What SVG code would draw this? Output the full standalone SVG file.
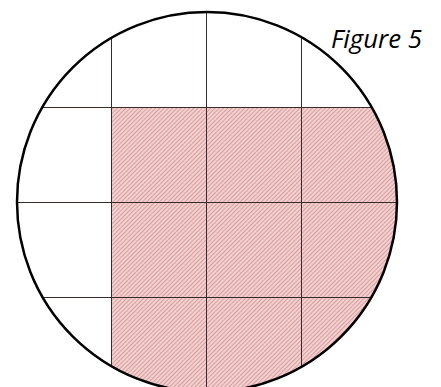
<svg xmlns="http://www.w3.org/2000/svg" width="441" height="387" viewBox="0 0 441 387">
  <style>
    .grid { stroke: #3a2a2a; stroke-width: 1; fill: none; }
    .rim { stroke: #000; stroke-width: 2.5; fill: none; }
    .lbl { font-family: "Open Sans", "Liberation Sans", sans-serif; font-style: italic; font-size: 25px; fill: #000; }
  </style>
  <defs>
    <pattern id="hatch" patternUnits="userSpaceOnUse" width="3" height="3" patternTransform="rotate(45)">
      <rect x="0" y="0" width="3" height="3" fill="#f3d0d0"/>
      <line x1="0" y1="0" x2="0" y2="3" stroke="#c98585" stroke-width="1.3"/>
    </pattern>
    <clipPath id="disc">
      <circle cx="207" cy="202" r="190"/>
    </clipPath>
  </defs>
  <rect width="441" height="387" fill="#fff"/>
  <g id="shaded" clip-path="url(#disc)">
    <rect x="111" y="107.5" width="300" height="300" fill="url(#hatch)"/>
  </g>
  <g id="grid" clip-path="url(#disc)">
    <line class="grid" x1="111.5" y1="0" x2="111.5" y2="387"/>
    <line class="grid" x1="206.5" y1="0" x2="206.5" y2="387"/>
    <line class="grid" x1="301.5" y1="0" x2="301.5" y2="387"/>
    <line class="grid" x1="0" y1="107.5" x2="441" y2="107.5"/>
    <line class="grid" x1="0" y1="202.5" x2="441" y2="202.5"/>
    <line class="grid" x1="0" y1="297.5" x2="441" y2="297.5"/>
  </g>
  <g id="rim">
    <circle class="rim" cx="207" cy="202" r="190"/>
  </g>
  <g id="caption">
    <text class="lbl" x="331" y="47.5" textLength="91" lengthAdjust="spacingAndGlyphs">Figure 5</text>
  </g>
</svg>
